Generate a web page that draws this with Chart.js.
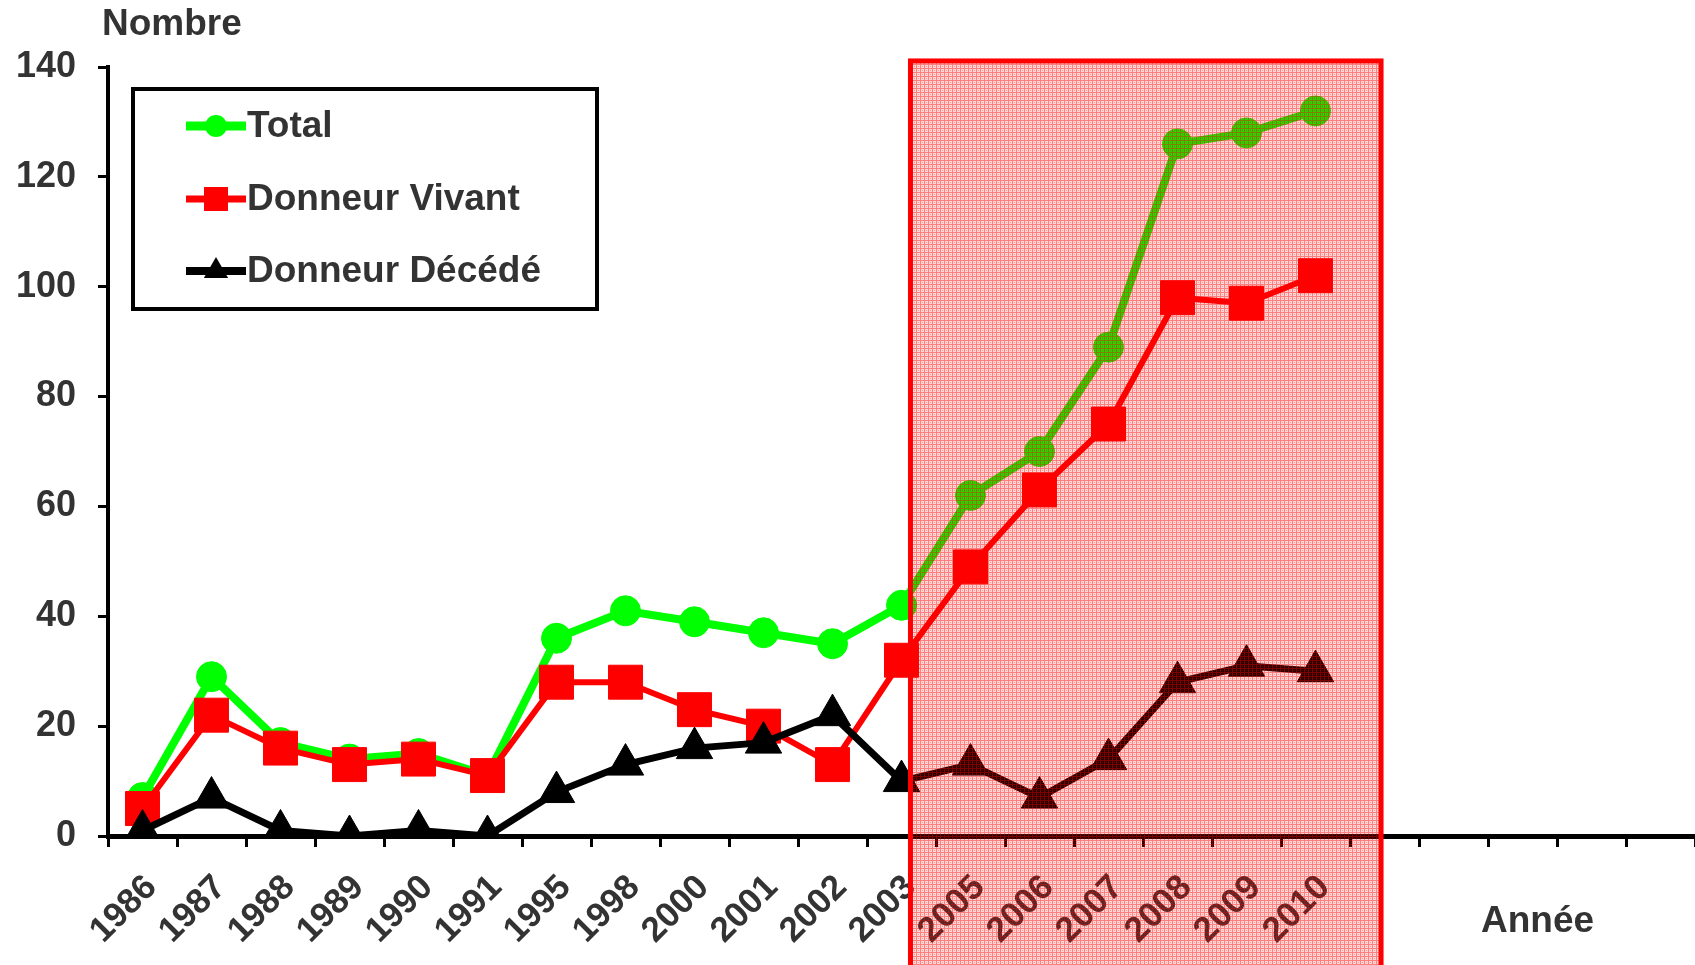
<!DOCTYPE html>
<html lang="fr">

<head>
    <meta charset="UTF-8">
    <title>Nombre par année</title>
    <script src="https://cdn.jsdelivr.net/npm/chart.js"></script>
    <style>
        html, body { margin: 0; padding: 0; background: #fff; }
        #wrap { width: 1695px; height: 965px; }
    </style>
</head>

<body>
    <div id="wrap"><canvas id="myChart" width="1695" height="965"></canvas></div>

    <script>
        // data
        const years = ['1986', '1987', '1988', '1989', '1990', '1991', '1995', '1998', '2000', '2001', '2002', '2003', '2005', '2006', '2007', '2008', '2009', '2010'];
        const emptySlots = ['', '', '', '', ''];
        const total = [7, 29, 17, 14, 15, 11, 36, 41, 39, 37, 35, 42, 62, 70, 89, 126, 128, 132];
        const vivant = [5, 22, 16, 13, 14, 11, 28, 28, 23, 20, 13, 32, 49, 63, 75, 98, 97, 102];
        const decede = [1, 7, 1, 0, 1, 0, 8, 13, 16, 17, 22, 10, 13, 7, 14, 28, 31, 30];
        const yTicks = [0, 20, 40, 60, 80, 100, 120, 140];

        // highlighted zone (in category index / value units)
        const boxFrom = 11.13;
        const boxTo = 17.95;
        const boxTop = 141.1;

        const FONT = "'Liberation Sans', Arial, sans-serif";
        const TXT = '#333333';

        const ctx = document.getElementById('myChart');

        // plaid pattern for the pink zone
        function makePattern(c) {
            const p = document.createElement('canvas');
            p.width = 4; p.height = 4;
            const pc = p.getContext('2d');
            for (let i = 0; i < 4; i++) {
                for (let j = 0; j < 4; j++) {
                    let a = 0.16;
                    if (i == 0 || j == 0) a = 0.5;
                    if (i == 2 && j == 2) a = 0.4;
                    pc.fillStyle = `rgba(255,0,0,${a})`;
                    pc.fillRect(i, j, 1, 1);
                }
            }
            return c.createPattern(p, 'repeat');
        }

        const extras = {
            id: 'extras',
            beforeDraw(chart) {
                const c = chart.ctx;
                c.save();
                c.fillStyle = '#fff';
                c.fillRect(0, 0, chart.width, chart.height);
                c.restore();
            },
            afterDraw(chart) {
                const c = chart.ctx;
                const x = chart.scales.x, y = chart.scales.y;
                c.save();

                // axis titles
                c.fillStyle = TXT;
                c.font = `bold 37px ${FONT}`;
                c.textBaseline = 'middle';
                c.textAlign = 'left';
                c.fillText('Nombre', 102, 25);
                c.fillText('Année', 1481, 922);

                // legend
                c.fillStyle = '#fff';
                c.fillRect(133, 89, 464, 220);
                c.strokeStyle = '#000';
                c.lineWidth = 4;
                c.strokeRect(133, 89, 464, 220);
                const rows = [126, 199, 271];
                chart.data.datasets.forEach((ds, i) => {
                    const yy = rows[i];
                    c.strokeStyle = ds.borderColor;
                    c.lineWidth = ds.borderWidth + 1;
                    c.beginPath();
                    c.moveTo(186, yy);
                    c.lineTo(246, yy);
                    c.stroke();
                    c.fillStyle = ds.borderColor;
                    Chart.helpers.drawPoint(c, {
                        pointStyle: ds.pointStyle,
                        radius: ds.legendRadius,
                        borderWidth: 0
                    }, 216, yy);
                    c.fillStyle = TXT;
                    c.font = `bold 37px ${FONT}`;
                    c.textAlign = 'left';
                    c.textBaseline = 'middle';
                    c.fillText(ds.label, 247, yy + 1);
                });

                // highlighted zone over everything
                const step = x.getPixelForValue(1) - x.getPixelForValue(0);
                const left = x.getPixelForValue(0) + boxFrom * step;
                const right = x.getPixelForValue(0) + boxTo * step;
                const top = y.getPixelForValue(boxTop);
                c.fillStyle = makePattern(c);
                c.fillRect(left, top, right - left, chart.height - top);
                c.strokeStyle = '#ff0000';
                c.lineWidth = 5;
                c.strokeRect(left, top, right - left, chart.height - top + 10);
                c.restore();
            }
        };

        new Chart(ctx, {
            type: 'line',
            data: {
                labels: years.concat(emptySlots),
                datasets: [{
                    label: 'Total',
                    data: total,
                    borderColor: '#00ff00',
                    backgroundColor: '#00ff00',
                    borderWidth: 8,
                    pointStyle: 'circle',
                    pointRadius: 15,
                    pointBorderWidth: 1,
                    legendRadius: 11,
                    order: 3
                }, {
                    label: 'Donneur Vivant',
                    data: vivant,
                    borderColor: '#ff0000',
                    backgroundColor: '#ff0000',
                    borderWidth: 6,
                    pointStyle: 'rect',
                    pointRadius: 24,
                    pointBorderWidth: 1,
                    legendRadius: 17,
                    order: 2
                }, {
                    label: 'Donneur Décédé',
                    data: decede,
                    borderColor: '#000000',
                    backgroundColor: '#000000',
                    borderWidth: 7,
                    pointStyle: 'triangle',
                    pointRadius: 21,
                    pointBorderWidth: 1,
                    legendRadius: 14,
                    order: 1
                }]
            },
            options: {
                responsive: false,
                animation: false,
                layout: { autoPadding: false, padding: { top: 67, right: 0, left: 0, bottom: 0 } },
                elements: { line: { tension: 0 } },
                plugins: {
                    legend: { display: false },
                    tooltip: { enabled: false }
                },
                scales: {
                    x: {
                        offset: true,
                        grid: {
                            offset: true,
                            drawOnChartArea: false,
                            drawTicks: true,
                            tickLength: 11,
                            color: '#000',
                            lineWidth: 3
                        },
                        border: { color: '#000', width: 5 },
                        ticks: {
                            autoSkip: false,
                            maxRotation: 45,
                            minRotation: 45,
                            padding: 20,
                            labelOffset: 9,
                            color: TXT,
                            font: { family: FONT, size: 35, weight: 'bold' }
                        },
                        afterFit(scale) {
                            scale.height = 129;
                            scale.paddingRight = 0;
                            scale.paddingLeft = 0;
                        }
                    },
                    y: {
                        min: 0,
                        max: 140,
                        afterBuildTicks(scale) { scale.ticks = yTicks.map(v => ({ value: v })); },
                        grid: {
                            drawOnChartArea: false,
                            drawTicks: true,
                            tickLength: 10,
                            color: '#000',
                            lineWidth: 3
                        },
                        border: { color: '#000', width: 4 },
                        ticks: {
                            padding: 22,
                            color: TXT,
                            font: { family: FONT, size: 36, weight: 'bold' }
                        },
                        afterFit(scale) { scale.width = 108; }
                    }
                }
            },
            plugins: [extras]
        });
    </script>
</body>

</html>
